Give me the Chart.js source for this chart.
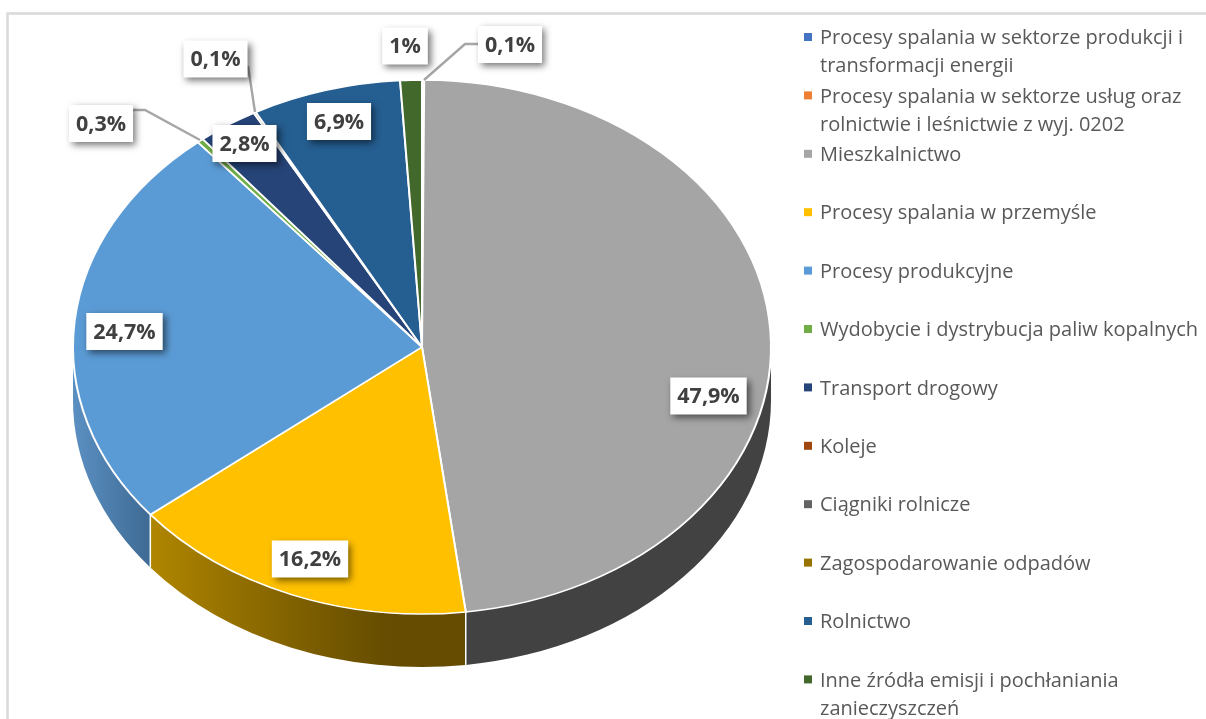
<!DOCTYPE html>
<html lang="pl">
<head>
<meta charset="utf-8">
<style>html,body{margin:0;padding:0;background:#fff;overflow:hidden}canvas{display:block;filter:blur(0.35px)}</style>
<script src="https://cdn.jsdelivr.net/npm/chart.js@4"></script>
</head>
<body>
<canvas id="c" width="1206" height="719"></canvas>
<script>
const categories = [
  "Procesy spalania w sektorze produkcji i transformacji energii",
  "Procesy spalania w sektorze usług oraz rolnictwie i leśnictwie z wyj. 0202",
  "Mieszkalnictwo",
  "Procesy spalania w przemyśle",
  "Procesy produkcyjne",
  "Wydobycie i dystrybucja paliw kopalnych",
  "Transport drogowy",
  "Koleje",
  "Ciągniki rolnicze",
  "Zagospodarowanie odpadów",
  "Rolnictwo",
  "Inne źródła emisji i pochłaniania zanieczyszczeń"
];
const shares = [0, 0.1, 47.9, 16.2, 24.7, 0.3, 2.8, 0, 0.1, 0, 6.9, 1];
const colors = ["#4472C4","#ED7D31","#A5A5A5","#FFC000","#5B9BD5","#70AD47","#264478","#9E480E","#636363","#997300","#255E91","#43682B"];

// styling / layout, keyed by category index
const sideGradients = {2:["#424242","#424242"],3:["#b08600","#957100","#7c5e00","#654c00","#654c00"],4:["#5b90c2","#3e6a94"]};
const labelCenters = {1:[510,44.5],2:[708.5,396],3:[310,559],4:[124.5,331.5],5:[101,123.5],6:[244.5,143.5],8:[215.5,59],10:[339,121.5],11:[405,46]};
const leaders = {1:[[478,44],[465,44],[424,80]],5:[[133,110],[145,110],[200,140]],8:[[248,66],[255,112]]};
const CY = 347, RY = 267, DEPTH = 53;
const fmt = v => String(v).replace('.', ',') + '%';

const pie3d = {
  id:'pie3d',
  beforeDatasetsDraw(chart){
    const ctx = chart.ctx, arcs = chart.getDatasetMeta(0).data;
    const rx = arcs[0].outerRadius, cx = arcs[0].x;
    ctx.save();
    arcs.forEach((el,i)=>{
      const a = Math.max(el.startAngle,0), b = Math.min(el.endAngle,Math.PI);
      if(b<=a || !sideGradients[i]) return;
      const xa = cx+rx*Math.cos(a), xb = cx+rx*Math.cos(b);
      const g = ctx.createLinearGradient(Math.min(xa,xb),0,Math.max(xa,xb),0);
      const st = sideGradients[i];
      st.forEach((c,k)=>g.addColorStop(k/(st.length-1),c));
      ctx.beginPath();
      ctx.ellipse(cx,CY,rx,RY,0,a,b);
      ctx.ellipse(cx,CY+DEPTH,rx,RY,0,b,a,true);
      ctx.closePath();
      ctx.fillStyle = g; ctx.fill();
    });
    ctx.strokeStyle='#fff'; ctx.lineWidth=1.5;
    arcs.forEach(el=>{
      const a = el.endAngle;
      if(a>0.02 && a<Math.PI-0.02 && el.endAngle>el.startAngle){
        const x=cx+rx*Math.cos(a), y=CY+RY*Math.sin(a);
        ctx.beginPath(); ctx.moveTo(x,y); ctx.lineTo(x,y+DEPTH); ctx.stroke();
      }
    });
    ctx.restore();
    ctx.save();
    const y0 = arcs[0].y;
    ctx.translate(0,CY); ctx.scale(1,RY/rx); ctx.translate(0,-y0);
  },
  afterDatasetsDraw(chart){
    const ctx = chart.ctx;
    ctx.restore();
    ctx.save();
    ctx.strokeStyle='#a6a6a6'; ctx.lineWidth=2.4;
    Object.values(leaders).forEach(p=>{
      ctx.beginPath(); p.forEach((q,k)=>k?ctx.lineTo(q[0],q[1]):ctx.moveTo(q[0],q[1])); ctx.stroke();
    });
    ctx.font='bold 21.5px "Open Sans"'; ctx.textAlign='center'; ctx.textBaseline='middle';
    shares.forEach((v,i)=>{
      if(!v) return;
      const [x,y]=labelCenters[i], t=fmt(v), w=ctx.measureText(t).width+14, h=37;
      ctx.save();
      ctx.shadowColor='rgba(0,0,0,0.55)'; ctx.shadowBlur=7; ctx.shadowOffsetX=3; ctx.shadowOffsetY=3;
      ctx.fillStyle='#fff'; ctx.fillRect(x-w/2,y-h/2,w,h);
      ctx.restore();
      ctx.fillStyle='#404040'; ctx.fillText(t,x,y+1);
    });
    ctx.restore();
  },
  afterDraw(chart){
    const ctx = chart.ctx;
    ctx.save();
    ctx.strokeStyle='#d9d9d9'; ctx.lineWidth=2.5;
    ctx.beginPath(); ctx.moveTo(7.5,719); ctx.lineTo(7.5,13.5); ctx.lineTo(1206,13.5); ctx.stroke();
    ctx.font='20px "Open Sans"'; ctx.textAlign='left'; ctx.textBaseline='middle';
    categories.forEach((name,i)=>{
      const y0 = 37 + i*58.4;
      ctx.fillStyle=colors[i]; ctx.fillRect(804,y0-4,8,8);
      ctx.fillStyle='#595959';
      let line='', n=0;
      const ty = y0+1.5;
      name.split(' ').forEach(word=>{
        const test = line?line+' '+word:word;
        if(ctx.measureText(test).width>392){ ctx.fillText(line,820,ty+n*28); n++; line=word; }
        else line=test;
      });
      ctx.fillText(line,820,ty+n*28);
    });
    ctx.restore();
  }
};

new Chart(document.getElementById('c'),{
  type:'pie',
  data:{labels:categories,datasets:[{data:shares,backgroundColor:colors,borderColor:'#fff',borderWidth:2}]},
  options:{
    responsive:false,animation:false,
    layout:{padding:{left:72,right:434,top:0,bottom:19}},
    plugins:{legend:{display:false},tooltip:{enabled:false}}
  },
  plugins:[pie3d]
});
</script>
</body>
</html>
